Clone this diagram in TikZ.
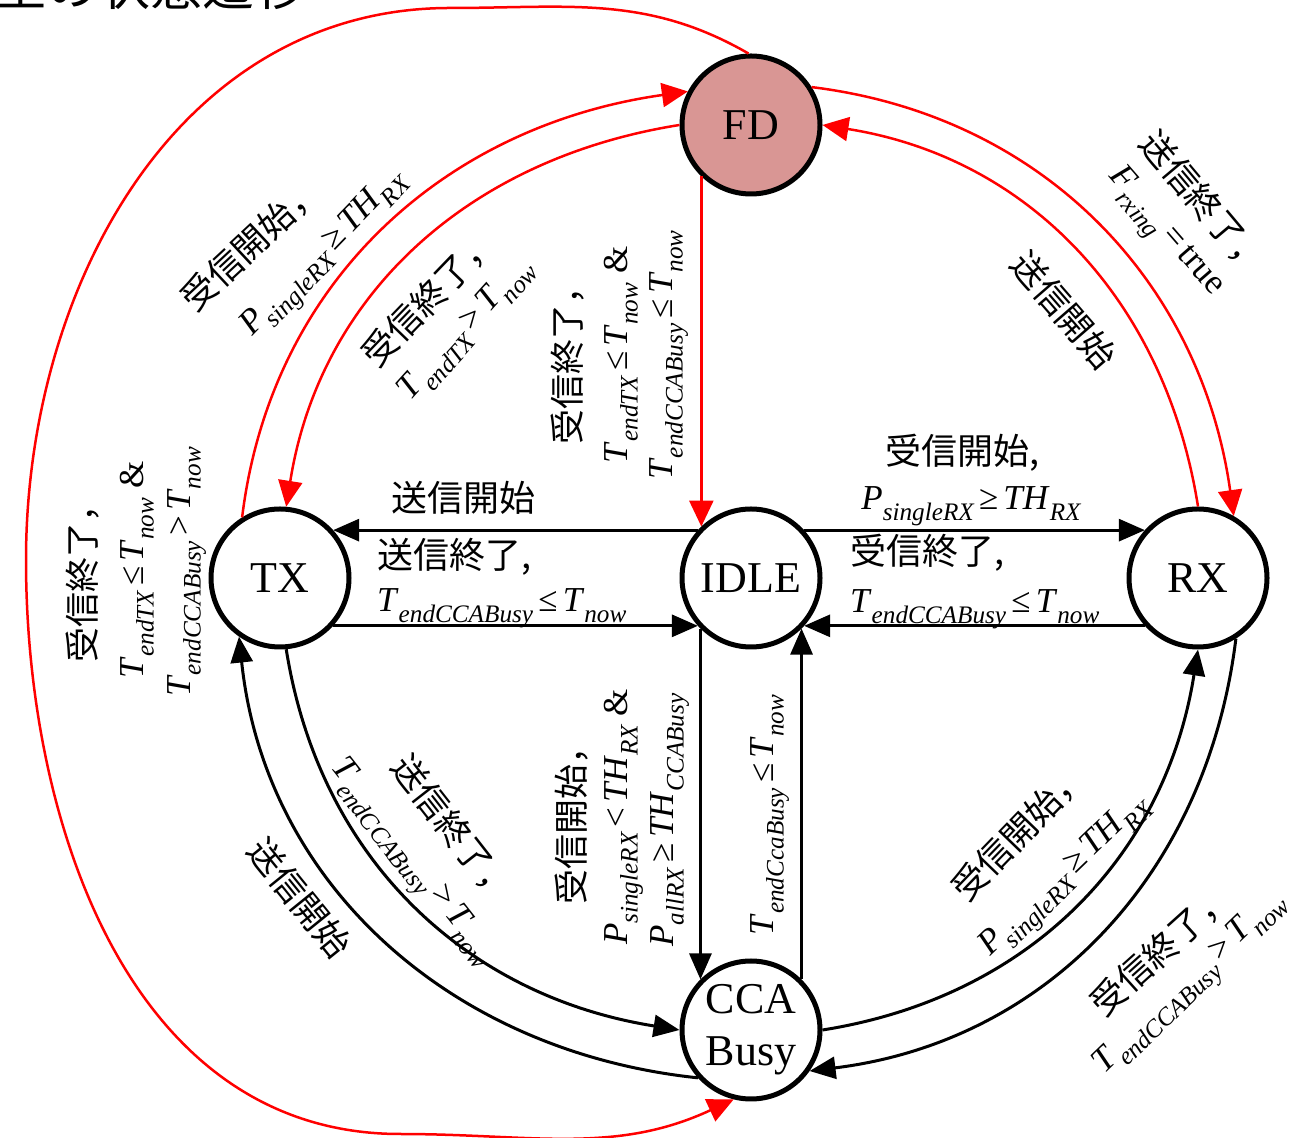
\documentclass[tikz,border=0pt]{standalone}
\usepackage{fontspec}
\setmainfont{Liberation Serif}
\newfontfamily\jp{Noto Sans CJK JP}
\usetikzlibrary{arrows.meta}
\newcommand\sbx[1]{\raisebox{-0.3em}{\scalebox{0.72}{\itshape #1}}}
\newcommand\vr[2]{\textit{#1}\sbx{#2}}
\newcommand\rel[1]{\hspace{0.15em}#1\hspace{0.15em}}
\begin{document}
\begin{tikzpicture}[x=1pt,y=1pt,
  st/.style={circle, draw, line width=5pt, minimum size=138pt, inner sep=0pt, align=center,
    font=\fontsize{44}{52}\selectfont},
  bk/.style={line width=3pt, -{Triangle[length=26pt,width=22pt]}},
  rd/.style={line width=2.5pt, red, -{Triangle[length=26pt,width=24pt]}},
  cj/.style={font=\jp\fontsize{35}{40}\selectfont, inner sep=0pt},
  ch/.style={font=\jp\fontsize{36}{40}\selectfont, inner sep=0pt},
  mt/.style={font=\fontsize{35}{40}\selectfont, inner sep=0pt}]
\fill[white] (0,0) rectangle (1291,1138);
\useasboundingbox (0,0) rectangle (1291,1138);
\node[anchor=base west, inner sep=0pt, font=\jp\fontsize{52}{52}\selectfont] (title) at (-6,1132) {型の状態遷移};
% states
\node[st, fill={rgb,255:red,217;green,150;blue,148}] (FD) at (751,1013) {FD};
\node[st] (TX) at (280,560) {TX};
\node[st] (IDLE) at (751,560) {IDLE};
\node[st] (RX) at (1198,560) {RX};
\node[st] (CCA) at (751,108) {CCA\\Busy};
% straight connectors
\draw[bk] (IDLE.138) -- (TX.42);
\draw[bk] (TX.-42) -- (IDLE.-138);
\draw[bk] (IDLE.42) -- (RX.138);
\draw[bk] (RX.-138) -- (IDLE.-42);
\draw[bk] (IDLE.-135) -- (CCA.135);
\draw[bk] (CCA.45) -- (IDLE.-45);
\draw[rd] (FD.-134) -- (IDLE.134);
% red arcs
\draw[rd] (TX.122) to[out=83, in=188] (FD.152);
\draw[rd] (FD.180) to[out=189, in=81] (TX.85);
\draw[rd] (FD.32) to[out=-7, in=98] (RX.60);
\draw[rd] (RX.90) to[out=99, in=-9] (FD.0);
% big red loop
\coordinate (loopT) at (450,1130);
\coordinate (loopL) at (26,578);
\coordinate (loopB) at (400,4);
\draw[rd] (FD.92) to[out=150, in=0] (loopT) to[out=180, in=90] (loopL)
  to[out=-90, in=180] (loopB) to[out=0, in=205] (CCA.-104);
% black arcs
\draw[bk] (TX.-85) to[out=-81, in=171] (CCA.180);
\draw[bk] (CCA.222) to[out=174, in=-84] (TX.-125);
\draw[bk] (CCA.0) to[out=9, in=-99] (RX.-90);
\draw[bk] (RX.-58) to[out=-97, in=7] (CCA.-35);
% horizontal labels
\node[ch] (h1) at (463,640) {送信開始};
\node[ch, anchor=west] (h2) at (377,581) {送信終了,};
\node[mt, anchor=base west] (h3) at (377,526) {\vr{T}{endCCABusy}\rel{≤}\vr{T}{now}};
\node[ch] (h4) at (962,685) {受信開始,};
\node[mt, anchor=base] (h5) at (971,628) {\vr{P}{singleRX}\rel{≥}\vr{TH}{RX}};
\node[ch, anchor=west] (h6) at (850,585) {受信終了,};
\node[mt, anchor=base west] (h7) at (850,525) {\vr{T}{endCCABusy}\rel{≤}\vr{T}{now}};
% vertical labels
\node[cj, rotate=90] (v1a) at (568,781) {受信終了，};
\node[mt, rotate=90, anchor=base] (v1b) at (627,783) {\vr{T}{endTX}\rel{≤}\vr{T}{now} \&};
\node[mt, rotate=90, anchor=base] (v1c) at (672,783) {\vr{T}{endCCABusy}\rel{≤}\vr{T}{now}};
\node[cj, rotate=90] (v2a) at (572,321) {受信開始，};
\node[mt, rotate=90, anchor=base] (v2b) at (627,321) {\vr{P}{singleRX}\rel{<}\vr{TH}{RX} \&};
\node[mt, rotate=90, anchor=base] (v2c) at (673,318) {\vr{P}{allRX}\rel{≥}\vr{TH}{CCABusy}};
\node[mt, rotate=90, anchor=base] (v3) at (773,323) {\vr{T}{endCcaBusy}\rel{≤}\vr{T}{now}};
\node[cj, rotate=90] (v4a) at (83,563) {受信終了，};
\node[mt, rotate=90, anchor=base] (v4b) at (143,568) {\vr{T}{endTX}\rel{≤}\vr{T}{now} \&};
\node[mt, rotate=90, anchor=base] (v4c) at (190,566) {\vr{T}{endCCABusy}\rel{>}\vr{T}{now}};
% diagonal labels
\node[cj, rotate=43] (d1a) at (251,894) {受信開始，};
\node[mt, rotate=46] (d1b) at (326,883) {\vr{P}{singleRX}\rel{≥}\vr{TH}{RX}};
\node[cj, rotate=46] (d2a) at (429,840) {受信終了，};
\node[mt, rotate=48] (d2b) at (467,808) {\vr{T}{endTX}\rel{>}\vr{T}{now}};
\node[cj, rotate=-50] (d3a) at (1204,935) {送信終了，};
\node[mt, rotate=-49] (d3b) at (1163,904) {\vr{F}{rxing}\rel{=}true};
\node[cj, rotate=-49] (d4) at (1064,828) {送信開始};
\node[cj, rotate=-52] (d5a) at (453,309) {送信終了，};
\node[mt, rotate=-52] (d5b) at (410,274) {\vr{T}{endCCABusy}\rel{>}\vr{T}{now}};
\node[cj, rotate=-51] (d6) at (300,240) {送信開始};
\node[cj, rotate=46] (d7a) at (1019,306) {受信開始，};
\node[mt, rotate=44] (d7b) at (1067,260) {\vr{P}{singleRX}\rel{≥}\vr{TH}{RX}};
\node[cj, rotate=42] (d8a) at (1161,188) {受信終了，};
\node[mt, rotate=44] (d8b) at (1192,153) {\vr{T}{endCCABusy}\rel{>}\vr{T}{now}};
\end{tikzpicture}
\end{document}
